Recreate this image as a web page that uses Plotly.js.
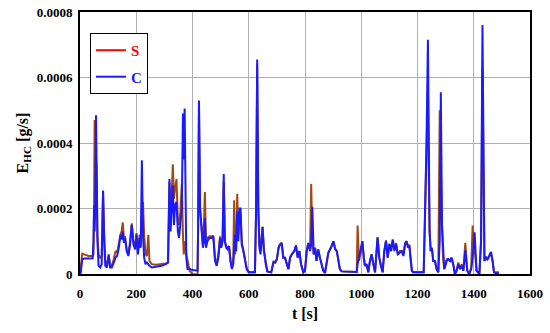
<!DOCTYPE html>
<html>
<head>
<meta charset="utf-8">
<script src="https://cdn.plot.ly/plotly-3.0.1.min.js"></script>
<style>html,body{margin:0;padding:0;background:#fff;}#chart{width:550px;height:333px;}</style>
</head>
<body>
<div id="chart"></div>
<script>
// time [s]
var t = [0,3,8,15,30,45,48,50,52,54,57,59,62,66,72,77,82,86,90,96,102,107,113,120,126,132,138,144,148,152,156,160,166,172,178,184,190,196,201,206,212,216,220,224,228,233,238,243,247,255,270,290,305,313,318,322,326,330,334,338,343,348,352,357,362,366,369,372,375,378,382,390,400,410,418,420,423,427,432,437,441,444,448,453,460,468,474,480,486,492,498,502,507,511,515,520,525,530,535,540,545,548,551,555,559,563,567,571,575,581,587,593,600,622,626,630,634,638,642,649,654,660,666,680,688,694,700,706,711,717,723,729,735,741,747,753,762,768,774,780,786,794,800,806,812,818,822,826,831,836,841,847,853,859,865,871,877,883,892,901,907,913,919,924,930,960,984,987,992,999,1004,1009,1013,1019,1025,1031,1037,1043,1049,1058,1064,1070,1076,1082,1088,1094,1100,1106,1112,1118,1124,1130,1138,1144,1150,1156,1161,1167,1171,1176,1180,1185,1222,1227,1232,1237,1240,1243,1247,1251,1256,1262,1268,1274,1279,1283,1287,1291,1295,1304,1310,1316,1321,1327,1333,1339,1345,1351,1357,1363,1370,1377,1384,1391,1396,1403,1410,1420,1426,1431,1435,1438,1444,1449,1455,1461,1467,1472,1481,1490];
// C series, in units of 1e-4 g/s
var C_e4 = [0,0.05,0.45,0.47,0.47,0.48,1.0,2.1,1.3,2.0,4.85,2.5,1.0,0.25,0.2,0.3,2.55,1.0,0.25,0.2,0.6,0.2,0.2,0.35,0.5,0.55,0.8,1.2,1.05,1.3,0.95,1.1,0.7,0.55,0.9,1.5,0.9,0.75,1.2,0.6,1.1,0.8,3.47,1.2,0.5,0.3,0.35,0.3,0.25,0.2,0.22,0.25,0.3,0.35,2.9,1.3,2.0,2.7,1.5,2.1,2.2,1.3,1.1,1.5,2.0,4.9,3.5,5.05,2.0,0.5,0.15,0.15,0.12,0.1,0.1,1.5,5.3,2.0,1.5,0.8,1.0,1.7,0.8,1.0,1.1,1.1,1.15,0.4,0.25,0.5,1.1,0.8,1.0,3.05,1.0,0.8,0.75,0.85,0.4,0.15,0.3,0.7,1.2,0.7,1.9,1.0,2.0,2.0,0.9,0.7,0.4,0.15,0.05,0.05,2.0,6.55,2.0,0.8,0.6,1.43,0.7,0.3,0.08,0.05,0.35,0.35,0.45,0.8,0.9,0.95,0.5,0.5,0.3,0.15,0.5,0.6,0.7,0.87,0.5,0.7,0.3,0.05,0.1,0.7,0.95,0.7,0.9,2.05,0.6,0.8,0.4,0.75,0.5,0.3,0.1,0.03,0.3,0.65,0.8,1.0,0.77,0.7,0.4,0.15,0.08,0.07,0.06,0.3,0.5,0.7,1.0,0.5,0.25,0.3,0.05,0.4,0.6,0.3,0.05,1.12,0.5,0.25,0.05,0.7,1.02,0.5,0.92,0.7,1.05,0.7,0.9,0.6,0.65,0.7,0.55,0.92,1.0,0.8,0.87,0.4,0.1,0.05,0.05,2.0,4.0,7.15,3.5,1.3,0.7,0.8,0.4,0.4,0.15,0.05,1.0,5.55,1.5,0.5,0.15,0.4,0.45,0.4,0.5,0.3,0.0,0.1,0.3,0.15,0.25,0.1,0.72,0.1,0.0,0.15,0.5,1.27,0.1,0.0,1.0,7.6,1.5,0.4,0.5,0.45,0.55,0.67,0.4,0.05,0.02,0.02];
// S series, in units of 1e-4 g/s
var S_e4 = [0,0.2,0.62,0.6,0.55,0.55,0.6,2.0,4.7,3.0,3.5,3.3,1.2,0.6,0.5,0.55,2.5,1.2,0.4,0.3,0.55,0.3,0.25,0.45,0.7,0.65,0.95,1.2,1.3,1.58,1.1,1.15,0.75,0.6,1.0,1.55,1.0,0.8,1.25,0.7,1.2,0.9,2.0,2.2,1.2,0.6,0.55,1.2,0.4,0.3,0.28,0.3,0.32,0.35,2.8,2.0,2.4,3.35,2.3,2.6,2.9,1.6,1.5,1.9,2.75,1.2,0.6,1.0,0.9,0.6,0.45,0.1,0.0,-0.02,-0.02,1.5,5.2,2.0,1.3,0.9,1.6,2.5,1.0,1.1,1.15,1.15,1.15,0.5,0.3,0.6,1.15,0.9,1.1,2.8,1.0,0.85,0.8,0.85,0.4,0.2,0.5,2.25,0.6,0.8,2.45,1.2,1.9,1.8,1.0,0.7,0.4,0.15,0.05,0.05,1.8,6.4,2.0,0.9,0.7,1.45,0.75,0.3,0.08,0.05,0.4,0.35,0.45,0.8,0.9,0.95,0.5,0.5,0.3,0.15,0.5,0.6,0.7,0.87,0.5,0.7,0.3,0.05,0.1,0.7,0.95,0.7,2.75,1.0,0.6,0.8,0.4,0.75,0.5,0.3,0.1,0.03,0.3,0.65,0.8,1.0,0.77,0.7,0.4,0.15,0.08,0.07,0.06,1.48,0.4,0.7,1.0,0.5,0.25,0.3,0.05,0.4,0.6,0.3,0.05,1.12,0.5,0.25,0.05,0.7,1.02,0.5,0.92,0.7,1.05,0.75,0.95,0.6,0.7,0.7,0.6,0.95,1.0,0.8,0.9,0.4,0.1,0.05,0.05,1.8,4.0,5.7,3.0,1.3,0.7,0.8,0.4,0.4,0.15,0.05,5.0,3.0,1.5,0.5,0.15,0.45,0.45,0.4,0.5,0.3,0.0,0.1,0.35,0.15,0.3,0.1,0.95,0.1,0.0,0.2,1.48,0.8,0.1,0.0,1.0,6.3,1.5,0.4,0.5,0.45,0.55,0.67,0.4,0.05,0.05,0.05];

var xTickVals = [0,200,400,600,800,1000,1200,1400,1600];
var yTickVals = [0,0.0002,0.0004,0.0006,0.0008];
var yTickText = ['0','0.0002','0.0004','0.0006','0.0008'];
var seriesNames = ['S', 'C'];

var C = C_e4.map(function(v){return v*1e-4;});
var S = S_e4.map(function(v){return v*1e-4;});

var traces = [
  {x: t, y: S, type: 'scatter', mode: 'lines', name: seriesNames[0], legendgroup: 'S', showlegend: false,
   line: {color: '#a24812', width: 2}},
  {x: t, y: C, type: 'scatter', mode: 'lines', name: seriesNames[1], legendgroup: 'C', showlegend: false,
   line: {color: '#1a1aff', width: 2}},
  {x: [null], y: [null], type: 'scatter', mode: 'lines', name: '<span style="color:#ff0000">' + seriesNames[0] + '</span>', legendgroup: 'S',
   line: {color: '#ff0000', width: 2}},
  {x: [null], y: [null], type: 'scatter', mode: 'lines', name: '<span style="color:#1a1aff">' + seriesNames[1] + '</span>', legendgroup: 'C',
   line: {color: '#1a1aff', width: 2}}
];

var fontFam = '"Liberation Serif", "Times New Roman", serif';
var layout = {
  width: 550, height: 333,
  margin: {l: 80, r: 20, t: 12, b: 59},
  paper_bgcolor: '#ffffff', plot_bgcolor: '#ffffff',
  font: {family: fontFam, size: 13, color: '#000'},
  showlegend: true,
  legend: {x: 0.022, y: 0.92, xanchor: 'left', yanchor: 'top',
    bordercolor: '#000', borderwidth: 1, bgcolor: '#fff',
    font: {family: fontFam, size: 15, color: '#000', weight: 'bold'},
    itemwidth: 30, tracegroupgap: 4},
  xaxis: {range: [0, 1600], tickvals: xTickVals, showgrid: true, gridcolor: '#b0b0b0', gridwidth: 1,
    showline: true, mirror: true, linecolor: '#000', linewidth: 2, zeroline: false, ticks: '',
    ticklabelstandoff: 6,
    tickfont: {family: fontFam, size: 13, weight: 'bold'},
    title: {text: 't [s]', font: {family: fontFam, size: 16, weight: 'bold'}, standoff: 8}},
  yaxis: {range: [0, 0.0008], tickvals: yTickVals, ticktext: yTickText, showgrid: true, gridcolor: '#b0b0b0', gridwidth: 1,
    showline: true, mirror: true, linecolor: '#000', linewidth: 2, zeroline: false, ticks: '',
    ticklabelstandoff: 3,
    tickfont: {family: fontFam, size: 13, weight: 'bold'},
    title: {text: 'E<sub>HC</sub> [g/s]', font: {family: fontFam, size: 16, weight: 'bold'}, standoff: 4}}
};

Plotly.newPlot('chart', traces, layout, {displayModeBar: false, staticPlot: true});
</script>
</body>
</html>
